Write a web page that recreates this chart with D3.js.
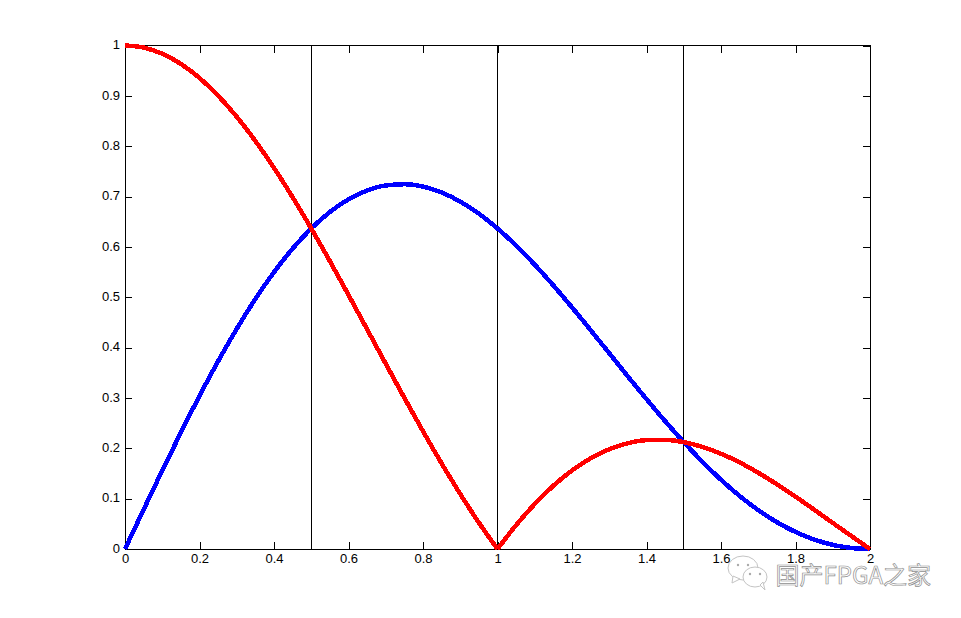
<!DOCTYPE html>
<html><head><meta charset="utf-8">
<script src="https://cdn.jsdelivr.net/npm/d3@7"></script>
<style>html,body{margin:0;background:#fff}svg{display:block}text{font-family:"Liberation Sans",Arial,sans-serif}</style>
</head><body><svg id="c" width="961" height="618"></svg>
<script>
const xValues = [0,.05,.1,.15,.2,.25,.3,.35,.4,.45,.5,.55,.6,.65,.7,.75,.8,.85,.9,.95,1,1.05,1.1,1.15,1.2,1.25,1.3,1.35,1.4,1.45,1.5,1.55,1.6,1.65,1.7,1.75,1.8,1.85,1.9,1.95,2];
const blueValues = [0,.0783,.1558,.2313,.304,.373,.4373,.4965,.5499,.5967,.6366,.6693,.6945,.712,.722,.7245,.7198,.7081,.69,.666,.6366,.6025,.5646,.5234,.4799,.4347,.3888,.3428,.2976,.2539,.2122,.1733,.1375,.1053,.0772,.0533,.0338,.0188,.0082,.002,0];
const redValues = [1,.9959,.9836,.9634,.9355,.9003,.8584,.8103,.7568,.6986,.6366,.5717,.5046,.4363,.3679,.3001,.2339,.17,.1093,.0524,0,.0474,.0894,.1257,.1559,.1801,.1981,.2101,.2162,.2168,.2122,.2028,.1892,.1719,.1514,.1286,.1039,.0781,.0518,.0257,0];
const xTicks = [0,.2,.4,.6,.8,1,1.2,1.4,1.6,1.8,2];
const yTicks = [0,.1,.2,.3,.4,.5,.6,.7,.8,.9,1];
const vLines = [.5,1,1.5];
const watermark = "国产FPGA之家";

const svg = d3.select("#c");
const x = d3.scaleLinear().domain([0,2]).range([125,870]);
const y = d3.scaleLinear().domain([0,1]).range([549,45.5]);
const fmt = d => String(+d.toFixed(1));

const line = d3.line().x(d=>x(d[0])).y(d=>y(d[1])).curve(d3.curveMonotoneX);
const blue = xValues.map((v,i)=>[v,blueValues[i]]);
const red = xValues.map((v,i)=>[v,redValues[i]]);
const cusp = xValues.indexOf(1);

svg.selectAll(".v").data(vLines).join("line").attr("class","v")
  .attr("x1",d=>Math.floor(x(d))+.5).attr("x2",d=>Math.floor(x(d))+.5)
  .attr("y1",y(0)).attr("y2",y(1)).attr("stroke","#000").attr("stroke-width",1);

function clean(g){ g.select(".domain").remove(); g.selectAll("text").attr("fill","#000").style("font-size","13px"); }
svg.append("g").attr("transform",`translate(0,${y(0)})`)
  .call(d3.axisBottom(x).tickValues(xTicks).tickFormat(fmt).tickSizeInner(-7).tickPadding(5)).call(clean);
svg.append("g").attr("transform",`translate(0,${y(1)})`)
  .call(d3.axisTop(x).tickValues(xTicks).tickFormat("").tickSizeInner(-7)).call(clean);
svg.append("g").attr("transform",`translate(${x(0)},-1)`)
  .call(d3.axisLeft(y).tickValues(yTicks).tickFormat(fmt).tickSizeInner(0).tickPadding(5)).call(clean);
svg.append("g").attr("transform",`translate(${x(0)},0)`)
  .call(d3.axisLeft(y).tickValues(yTicks).tickFormat("").tickSizeInner(-7)).call(clean);
svg.append("g").attr("transform",`translate(${x(2)},0)`)
  .call(d3.axisRight(y).tickValues(yTicks).tickFormat("").tickSizeInner(-7)).call(clean);
svg.selectAll(".tick line").attr("stroke","#000").attr("shape-rendering","crispEdges");
svg.append("rect").attr("x",x(0)).attr("y",y(1)).attr("width",x(2)-x(0)).attr("height",y(0)-y(1))
  .attr("fill","none").attr("stroke","#000").attr("stroke-width",1).attr("shape-rendering","crispEdges");

const curve = (data,color)=>svg.append("path").attr("d",line(data)).attr("fill","none")
  .attr("stroke",color).attr("stroke-width",4.5).attr("stroke-linejoin","round").attr("shape-rendering","crispEdges");
curve(blue,"#0000ff");
curve(red.slice(0,cusp+1),"#ff0000");
curve(red.slice(cusp),"#ff0000");

const wm = svg.append("g").attr("fill","#fff").attr("stroke","#c4c4c4").attr("stroke-width",1);
wm.append("ellipse").attr("cx",743).attr("cy",568).attr("rx",15).attr("ry",12);
wm.append("path").attr("d","M733 576 L732 583 L740 579 Z");
wm.append("ellipse").attr("cx",755).attr("cy",577).attr("rx",12).attr("ry",10);
wm.append("path").attr("d","M760 585 L765 590 L763 582 Z");
svg.selectAll(".dot").data([[738,565],[748,565],[750,574],[760,574]]).join("circle").attr("class","dot")
  .attr("cx",d=>d[0]).attr("cy",d=>d[1]).attr("r",1.2).attr("fill","#aaa");
svg.append("text").attr("x",775.5).attr("y",584).text(watermark)
  .style("font-family",'"Noto Sans CJK SC","Noto Sans",sans-serif').style("font-size","24px")
  .attr("fill","#fff").attr("stroke","#8f8f8f").attr("stroke-width",.7);
</script></body></html>
